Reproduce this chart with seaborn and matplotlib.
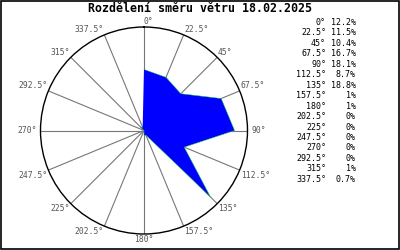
import numpy as np
import pandas as pd
import matplotlib
matplotlib.use("Agg")
import matplotlib.pyplot as plt
import seaborn as sns

title = "Rozdělení směru větru 18.02.2025"
directions = [0, 22.5, 45, 67.5, 90, 112.5, 135, 157.5, 180, 202.5, 225, 247.5, 270, 292.5, 315, 337.5]
dir_labels = ["0°", "22.5°", "45°", "67.5°", "90°", "112.5°", "135°", "157.5°",
              "180°", "202.5°", "225°", "247.5°", "270°", "292.5°", "315°", "337.5°"]
values = [12.2, 11.5, 10.4, 16.7, 18.1, 8.7, 18.8, 1, 1, 0, 0, 0, 0, 0, 1, 0.7]
value_labels = ["12.2%", "11.5%", "10.4%", "16.7%", "18.1%", "8.7%", "18.8%", "1%",
                "1%", "0%", "0%", "0%", "0%", "0%", "1%", "0.7%"]

sns.set_theme(style="white")
plt.rcParams["font.family"] = ["DejaVu Sans Mono", "DejaVu Sans"]

fig = plt.figure(figsize=(4, 2.5), dpi=100)
fig.patch.set_facecolor("white")
ax = fig.add_axes([0.101, 0.064, 0.518, 0.828], projection="polar")
ax.set_theta_zero_location("N")
ax.set_theta_direction(-1)

df = pd.DataFrame({"theta": np.deg2rad(directions + [directions[0]]),
                   "r": values + [values[0]]})
ax.fill(df["theta"], df["r"], color="#0000ff", zorder=3, linewidth=0)
sns.lineplot(data=df, x="theta", y="r", sort=False, ax=ax, color="#22cc44",
             linewidth=0.35, zorder=4, legend=False)

rmax = max(values) * 1.1
ax.set_ylim(0, rmax)
ax.set_yticks([])
ax.set_xticks(np.deg2rad(directions))
ax.set_xticklabels([])
ax.xaxis.grid(True, color="#777777", linewidth=0.8)
ax.yaxis.grid(False)
ax.spines["polar"].set_color("black")
ax.spines["polar"].set_linewidth(1.0)
ax.set_xlabel("")
ax.set_ylabel("")

for d, lab in zip(directions, dir_labels):
    if d == 0:
        ha, va = "left", "bottom"
    elif d < 90:
        ha, va = "left", "bottom"
    elif d == 90:
        ha, va = "left", "center"
    elif d < 180:
        ha, va = "left", "top"
    elif d == 180:
        ha, va = "center", "top"
    elif d < 270:
        ha, va = "right", "top"
    elif d == 270:
        ha, va = "right", "center"
    else:
        ha, va = "right", "bottom"
    r = rmax * (1.035 if d in (90, 270) else 1.01)
    ax.text(np.deg2rad(d), r, lab, ha=ha, va=va, fontsize=5.8, color="#555555",
            clip_on=False)

fig.text(0.5, 0.965, title, ha="center", va="center", fontsize=8.4, fontweight="bold", color="black")

y0 = 1 - 22.5 / 250
dy = 10.45 / 250
for i, (dl, vl) in enumerate(zip(dir_labels, value_labels)):
    y = y0 - i * dy
    fig.text(326 / 400, y, dl, ha="right", va="center", fontsize=6, color="black")
    fig.text(356 / 400, y, vl, ha="right", va="center", fontsize=6, color="black")

border = plt.Rectangle((0.0015, 0.0025), 0.997, 0.995, transform=fig.transFigure,
                       fill=False, edgecolor="black", linewidth=1.2)
fig.add_artist(border)

fig.savefig("out.png", dpi=100)
